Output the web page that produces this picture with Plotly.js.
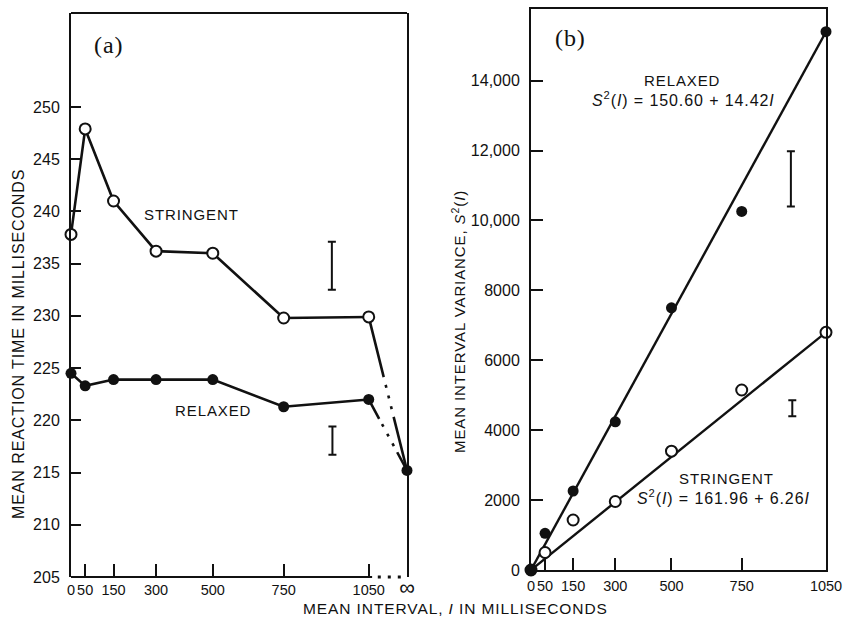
<!DOCTYPE html>
<html><head><meta charset="utf-8">
<script src="https://cdn.plot.ly/plotly-3.0.1.min.js"></script>
<style>html,body{margin:0;padding:0;background:#fff}
.annotation-text{letter-spacing:0.9px}</style>
</head><body><div id="chart" style="width:845px;height:620px"></div>
<script>
// ---------- Panel (a): mean reaction time ----------
const intervals = [0, 50, 150, 300, 500, 750, 1050];
const infinityPos = 1185;              // position used for the "∞" category
const aTickVals = [0, 50, 150, 300, 500, 750, 1050, 1185];
const aTickText = ['0', '50', '150', '300', '500', '750', '1050', '<span style="font-size:22px">∞</span>'];
const rtStringent = [237.8, 247.9, 241.0, 236.2, 236.0, 229.8, 229.9];
const rtRelaxed   = [224.5, 223.3, 223.9, 223.9, 223.9, 221.3, 222.0];
const rtInfinity  = 215.2;
const aYTicks = [205, 210, 215, 220, 225, 230, 235, 240, 245, 250];
const aErrX    = [920, 922];
const aErrLow  = [232.5, 216.7];
const aErrHigh = [237.1, 219.4];

// ---------- Panel (b): mean interval variance ----------
const bTickVals = [0, 50, 150, 300, 500, 750, 1050];
const bTickText = ['0', '50', '150', '300', '500', '750', '1050'];
const varStringent = [0, 500, 1430, 1960, 3400, 5150, 6800];
const varRelaxed   = [0, 1050, 2260, 4240, 7500, 10260, 15400];
const fitX = [0, 1050];
const fitStringent = [0, 6800];
const fitRelaxed   = [0, 15400];
const bYTicks = [0, 2000, 4000, 6000, 8000, 10000, 12000, 14000];
const bYText  = ['0', '2000', '4000', '6000', '8000', '10,000', '12,000', '14,000'];
const bErrX    = [925, 930];
const bErrLow  = [10400, 4400];
const bErrHigh = [11980, 4860];

const INK = '#111';
const SANS = 'Liberation Sans, Arial, sans-serif';
const SERIF = 'Liberation Serif, Times New Roman, serif';
const W = 845, H = 620;
const px = x => x / W, py = y => 1 - y / H;

const openMarker = {symbol: 'circle', size: 11, color: '#fff', line: {color: INK, width: 2}};
const fillMarker = {symbol: 'circle', size: 11, color: INK, line: {color: INK, width: 0}};

const traces = [
  // dotted/broken tails to infinity
  {x: [intervals[intervals.length-1], infinityPos], y: [rtStringent[rtStringent.length-1], rtInfinity],
   mode: 'lines', line: {color: INK, width: 2.6, dash: '62px,8px,3px,8px,3px,8px,3px,8px,200px'},
   xaxis: 'x', yaxis: 'y', cliponaxis: false},
  {x: [intervals[intervals.length-1], infinityPos], y: [rtRelaxed[rtRelaxed.length-1], rtInfinity],
   mode: 'lines', line: {color: INK, width: 2.6, dash: '22px,6px,3px,8px,3px,8px,3px,7px,200px'},
   xaxis: 'x', yaxis: 'y', cliponaxis: false},
  {x: intervals, y: rtStringent, mode: 'lines+markers', line: {color: INK, width: 2.6},
   marker: openMarker, xaxis: 'x', yaxis: 'y', cliponaxis: false},
  {x: intervals, y: rtRelaxed, mode: 'lines+markers', line: {color: INK, width: 2.6},
   marker: fillMarker, xaxis: 'x', yaxis: 'y', cliponaxis: false},
  {x: [infinityPos], y: [rtInfinity], mode: 'markers', marker: fillMarker,
   xaxis: 'x', yaxis: 'y', cliponaxis: false},
  {x: aErrX, y: aErrLow, mode: 'markers', marker: {size: 1, opacity: 0},
   error_y: {type: 'data', symmetric: false, array: aErrHigh.map((h, i) => h - aErrLow[i]),
             arrayminus: aErrLow.map(() => 0), color: INK, thickness: 2, width: 4},
   xaxis: 'x', yaxis: 'y', cliponaxis: false},

  // panel (b)
  {x: fitX, y: fitRelaxed, mode: 'lines', line: {color: INK, width: 2.4},
   xaxis: 'x2', yaxis: 'y2', cliponaxis: false},
  {x: fitX, y: fitStringent, mode: 'lines', line: {color: INK, width: 2.4},
   xaxis: 'x2', yaxis: 'y2', cliponaxis: false},
  {x: bTickVals, y: varStringent, mode: 'markers', marker: openMarker,
   xaxis: 'x2', yaxis: 'y2', cliponaxis: false},
  {x: bTickVals, y: varRelaxed, mode: 'markers', marker: fillMarker,
   xaxis: 'x2', yaxis: 'y2', cliponaxis: false},
  {x: bErrX, y: bErrLow, mode: 'markers', marker: {size: 1, opacity: 0},
   error_y: {type: 'data', symmetric: false, array: bErrHigh.map((h, i) => h - bErrLow[i]),
             arrayminus: bErrLow.map(() => 0), color: INK, thickness: 2, width: 4},
   xaxis: 'x2', yaxis: 'y2', cliponaxis: false}
];

const tickFont = {family: SANS, size: 16, color: INK};
const xTickFont = {family: SANS, size: 14.5, color: INK};
const axBase = {showgrid: false, zeroline: false, ticks: 'inside', tickcolor: INK, tickwidth: 2,
                tickfont: tickFont, fixedrange: true, tickangle: 0};

const layout = {
  width: W, height: H, margin: {l: 0, r: 0, t: 0, b: 0},
  paper_bgcolor: '#fff', plot_bgcolor: '#fff', showlegend: false,
  xaxis: Object.assign({}, axBase, {domain: [px(71), px(407)], range: [0, infinityPos], anchor: 'y',
    tickmode: 'array', tickvals: aTickVals, ticktext: aTickText, ticklen: 13, showline: false,
    ticklabelstandoff: 2, tickfont: xTickFont}),
  yaxis: Object.assign({}, axBase, {domain: [py(577), py(13)], range: [205, 259], anchor: 'x',
    tickmode: 'array', tickvals: aYTicks, ticklen: 10, showline: true, mirror: true,
    linecolor: INK, linewidth: 2, ticklabelstandoff: 6}),
  xaxis2: Object.assign({}, axBase, {domain: [px(531), px(826)], range: [0, 1050], anchor: 'y2',
    tickmode: 'array', tickvals: bTickVals, ticktext: bTickText, ticklen: 12, showline: true, mirror: true,
    linecolor: INK, linewidth: 2, ticklabelstandoff: 2, tickfont: xTickFont}),
  yaxis2: Object.assign({}, axBase, {domain: [py(570), py(9)], range: [0, 16050], anchor: 'x2',
    tickmode: 'array', tickvals: bYTicks, ticktext: bYText, ticklen: 12, showline: true, mirror: true,
    linecolor: INK, linewidth: 2, ticklabelstandoff: 6}),
  shapes: [
    {type: 'line', xref: 'x domain', yref: 'y domain', x0: 0, x1: 1, y0: 1, y1: 1,
     line: {color: INK, width: 2}},
    {type: 'line', xref: 'x', yref: 'y domain', x0: 0, x1: 1062, y0: 0, y1: 0,
     line: {color: INK, width: 2}},
    {type: 'line', xref: 'x', yref: 'y domain', x0: 1082, x1: infinityPos, y0: 0, y1: 0,
     line: {color: INK, width: 3, dash: '3px,7px'}}
  ],
  annotations: [
    {text: '(a)', x: px(108), y: py(45), font: {family: SERIF, size: 24, color: INK}},
    {text: 'STRINGENT', x: px(191), y: py(214), font: {family: SANS, size: 15, color: INK}},
    {text: 'RELAXED', x: px(213), y: py(410), font: {family: SANS, size: 15, color: INK}},
    {text: '(b)', x: px(570), y: py(38), font: {family: SERIF, size: 24, color: INK}},
    {text: 'RELAXED', x: px(682), y: py(80), font: {family: SANS, size: 15, color: INK}},
    {text: '<i>S</i><sup>2</sup>(<i>I</i>) = 150.60 + 14.42<i>I</i>', x: px(683), y: py(99), font: {family: SANS, size: 16, color: INK}},
    {text: 'STRINGENT', x: px(726), y: py(478), font: {family: SANS, size: 15, color: INK}},
    {text: '<i>S</i><sup>2</sup>(<i>I</i>) = 161.96 + 6.26<i>I</i>', x: px(723), y: py(497), font: {family: SANS, size: 16, color: INK}},
    {text: 'MEAN INTERVAL, <i>I</i> IN MILLISECONDS', x: px(455), y: py(608), font: {family: SANS, size: 15.5, color: INK}},
    {text: 'MEAN REACTION TIME IN MILLISECONDS', x: px(18), y: py(344), textangle: -90, font: {family: SANS, size: 16, color: INK}},
    {text: 'MEAN INTERVAL VARIANCE, <i>S</i><sup>2</sup>(<i>I</i>)', x: px(458), y: py(322), textangle: -90, font: {family: SANS, size: 15, color: INK}}
  ].map(a => Object.assign({xref: 'paper', yref: 'paper', showarrow: false, xanchor: 'center', yanchor: 'middle'}, a))
};

Plotly.newPlot('chart', traces, layout, {staticPlot: true, displayModeBar: false});
</script>
</body></html>
